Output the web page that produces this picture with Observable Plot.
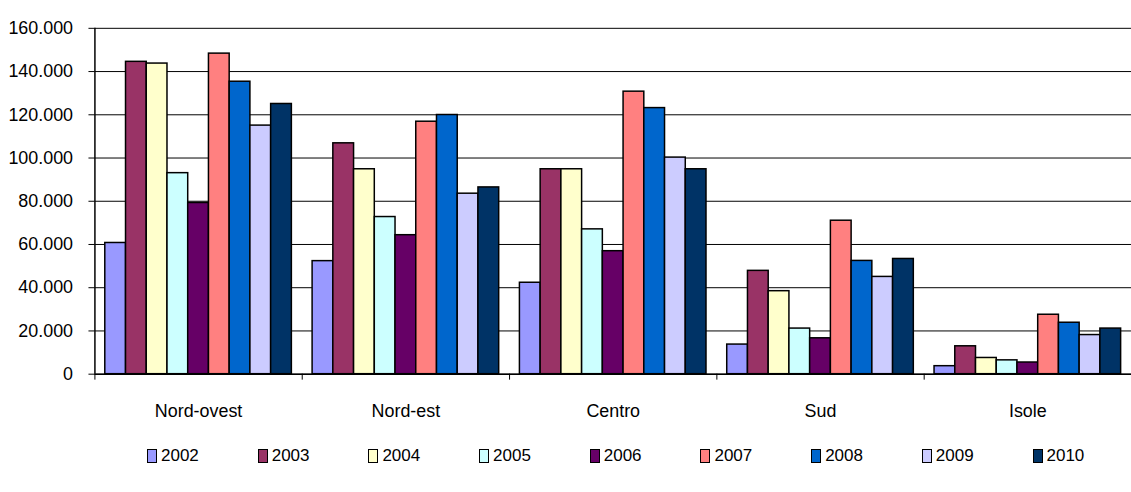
<!DOCTYPE html>
<html>
<head>
<meta charset="utf-8">
<script src="https://cdn.jsdelivr.net/npm/d3@7"></script>
<script src="https://cdn.jsdelivr.net/npm/@observablehq/plot@0.6"></script>
<style>
  html, body { margin: 0; padding: 0; background: #fff; overflow: hidden; }
  #wrap { position: relative; width: 1131px; height: 492px; overflow: hidden; font-family: "Liberation Sans", Arial, sans-serif; }
  #chart { position: absolute; left: 0; top: 0; }
  #legend { position: absolute; left: 147px; top: 446px; display: flex; font-size: 17px; color: #000; }
  .item { width: 110.7px; display: flex; align-items: center; }
  .sw { width: 8px; height: 12px; border: 1.5px solid #000; margin-right: 4px; box-sizing: content-box; }
</style>
</head>
<body>
<div id="wrap">
  <div id="chart"></div>
  <div id="legend"></div>
</div>
<script>
const regions = ["Nord-ovest", "Nord-est", "Centro", "Sud", "Isole"];
const years = ["2002", "2003", "2004", "2005", "2006", "2007", "2008", "2009", "2010"];
const colors = ["#9999FF", "#993366", "#FFFFCC", "#CCFFFF", "#660066", "#FF8080", "#0066CC", "#CCCCFF", "#003366"];
// values per year, in region order
const v2002 = [60700, 52300, 42300, 13700, 3700];
const v2003 = [144500, 106800, 94800, 47800, 12900];
const v2004 = [143700, 94800, 94800, 38400, 7500];
const v2005 = [93000, 72700, 67000, 21100, 6400];
const v2006 = [79200, 64300, 56900, 16600, 5400];
const v2007 = [148300, 116800, 130700, 71000, 27500];
const v2008 = [135300, 119900, 123100, 52400, 23800];
const v2009 = [115000, 83500, 100200, 45000, 18100];
const v2010 = [125000, 86400, 94800, 53300, 21100];
const yTicks = [0, 20000, 40000, 60000, 80000, 100000, 120000, 140000, 160000];

const series = [v2002, v2003, v2004, v2005, v2006, v2007, v2008, v2009, v2010];
const data = [];
regions.forEach((r, ri) => {
  years.forEach((y, yi) => {
    data.push({region: r, ri, year: y, yi, value: series[yi][ri]});
  });
});
const barW = 0.1;
const pad = (1 - barW * years.length) / 2;

const itLocale = d3.formatLocale({decimal: ",", thousands: ".", grouping: [3], currency: ["", "€"]});
const fmt = itLocale.format(",d");

const font = "Liberation Sans, Arial, sans-serif";

const plot = Plot.plot({
  width: 1138,
  height: 431,
  marginTop: 28,
  marginBottom: 55,
  marginLeft: 95,
  marginRight: 0,
  style: {fontFamily: font, fontSize: "18px", color: "#000", background: "#fff"},
  x: {domain: [0, regions.length], axis: null},
  y: {domain: [0, 160000], axis: null},
  color: {domain: years, range: colors},
  marks: [
    Plot.gridY(yTicks, {stroke: "#000", strokeOpacity: 1, strokeWidth: 1}),
    Plot.axisY(yTicks, {tickSize: 6, tickPadding: 16, tickFormat: fmt, stroke: "#000", fontSize: 18, label: null}),
    Plot.rectY(data, {
      x1: d => d.ri + pad + d.yi * barW,
      x2: d => d.ri + pad + (d.yi + 1) * barW,
      y: "value",
      fill: "year",
      stroke: "#000",
      strokeWidth: 1.5
    }),
    Plot.ruleX([0], {stroke: "#000", strokeWidth: 1.5}),
    Plot.ruleY([0], {stroke: "#000", strokeWidth: 1.5}),
    Plot.axisX(d3.range(0, regions.length + 1), {tickSize: 6, tickFormat: () => "", stroke: "#000", label: null}),
    Plot.axisX(regions.map((r, i) => i + 0.5), {
      tickSize: 0, tickPadding: 30, tickFormat: t => regions[Math.floor(t)], fontSize: 18, letterSpacing: "0.5px", label: null
    })
  ]
});
document.getElementById("chart").appendChild(plot);

const legend = document.getElementById("legend");
years.forEach((y, i) => {
  const item = document.createElement("div");
  item.className = "item";
  const sw = document.createElement("span");
  sw.className = "sw";
  sw.style.background = colors[i];
  const t = document.createElement("span");
  t.textContent = y;
  item.appendChild(sw);
  item.appendChild(t);
  legend.appendChild(item);
});
</script>
</body>
</html>
